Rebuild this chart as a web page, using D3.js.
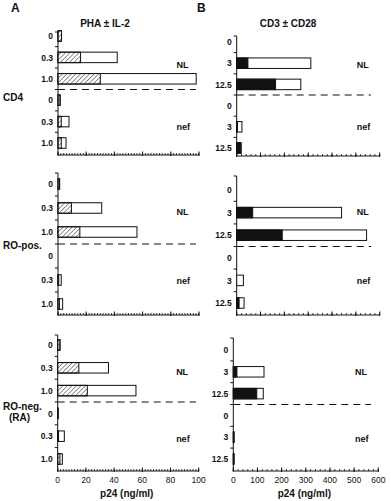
<!DOCTYPE html>
<html>
<head>
<meta charset="utf-8">
<script src="https://cdn.jsdelivr.net/npm/d3@7"></script>
<style>
  body { margin: 0; background: #fff; }
  text { font-family: "Liberation Sans", Arial, sans-serif; font-weight: bold; fill: #111; }
</style>
</head>
<body>
<svg id="chart" width="391" height="501"></svg>
<script>
// data
var groups = ["NL", "nef"];
var catsA = ["0", "0.3", "1.0"];
var catsB = ["0", "3", "12.5"];
var rowNames = [["CD4"], ["RO-pos."], ["RO-neg.", "(RA)"]];
var titleA = "PHA \u00b1 IL-2";
var titleB = "CD3 \u00b1 CD28";
var xTitle = "p24 (ng/ml)";
var ticksA = [0, 20, 40, 60, 80, 100];
var ticksB = [0, 100, 200, 300, 400, 500, 600];

// p24, NL 0/0.3/1.0 then nef 0/0.3/1.0, one row per cell population
var phaAlone = [[2.5, 16, 30, 1.5, 2.3, 2.3],
                [1, 9.5, 15.5, 0, 0.5, 1],
                [1.6, 15, 21, 0.3, 0.6, 1.6]];
var phaIl2 = [[2.5, 42, 98, 1.5, 7.8, 5.7],
              [1.2, 31, 56, 0, 2.3, 3.3],
              [1.6, 36, 55.5, 0.3, 4.7, 3.3]];
// NL 0/3/12.5 then nef 0/3/12.5
var cd3Alone = [[0, 47, 163, 0, 3, 17],
                [0, 67, 191, 0, 0, 10],
                [0, 15, 97, 0, 3, 3]];
var cd3Cd28 = [[0, 311, 269, 0, 22, 19],
               [0, 440, 545, 0, 28, 31],
               [0, 127, 124, 0, 3, 3]];

// where each sub-panel sits on the page
var layout = [
  { label: 97, groupY: [66, 128],
    A: { x0: 58, w: 141, top: 32, c0: 36, c5: 143, bottom: 155 },
    B: { x0: 236.7, w: 143, top: 36, c0: 42, c5: 148, bottom: 156 } },
  { label: 245, groupY: [213, 282],
    A: { x0: 58, w: 141, top: 173, c0: 184, c5: 304, bottom: 315 },
    B: { x0: 236.7, w: 143, top: 176, c0: 190, c5: 303, bottom: 315 } },
  { label: 406, groupY: [373, 440],
    A: { x0: 57.7, w: 141, top: 335, c0: 345, c5: 459, bottom: 471 },
    B: { x0: 233.3, w: 145, top: 338, c0: 350, c5: 459, bottom: 471 } }
];

var svg = d3.select("#chart");

var defs = svg.append("defs");
defs.append("pattern")
    .attr("id", "hatch")
    .attr("patternUnits", "userSpaceOnUse")
    .attr("width", 3.2)
    .attr("height", 3.2)
    .attr("patternTransform", "rotate(45)")
  .append("line")
    .attr("x1", 0).attr("y1", 0)
    .attr("x2", 0).attr("y2", 3.2)
    .attr("stroke", "#111")
    .attr("stroke-width", 0.9);

svg.append("text").attr("x", 11).attr("y", 12).style("font-size", "12px").text("A");
svg.append("text").attr("x", 197).attr("y", 12).style("font-size", "12px").text("B");
svg.append("text").attr("x", 105).attr("y", 27).attr("text-anchor", "middle")
   .style("font-size", "10px").text(titleA);
svg.append("text").attr("x", 288).attr("y", 27).attr("text-anchor", "middle")
   .style("font-size", "10px").text(titleB);

function drawPanel(L, groupY, cats, max, ticks, minorStep, inner, total, innerFill, showLabels, dashEnd) {
  var keys = [];
  groups.forEach(function (g) { cats.forEach(function (c) { keys.push(g + "|" + c); }); });

  var x = d3.scaleLinear().domain([0, max]).range([L.x0, L.x0 + L.w]);
  var y = d3.scalePoint().domain(keys).range([L.c0, L.c5]);
  var step = y.step();
  var barH = 10.5;

  var g = svg.append("g");

  // y axis with category labels
  var yAxis = d3.axisLeft(y).tickSize(0).tickPadding(5)
      .tickFormat(function (k) { return k.split("|")[1]; });
  var ya = g.append("g").attr("transform", "translate(" + L.x0 + ",0)").call(yAxis);
  ya.select(".domain").remove();
  ya.selectAll("text").style("font-size", "8.5px").style("font-family", null);
  g.append("line").attr("x1", L.x0).attr("x2", L.x0).attr("y1", L.top).attr("y2", L.bottom)
    .attr("stroke", "#111").attr("stroke-width", 1);
  var bounds = [L.top];
  for (var i = 0; i < keys.length - 1; i++) bounds.push(L.c0 + step * (i + 0.5));
  g.selectAll(".ytick").data(bounds).enter().append("line")
    .attr("x1", L.x0 - 3).attr("x2", L.x0)
    .attr("y1", function (d) { return d; }).attr("y2", function (d) { return d; })
    .attr("stroke", "#111").attr("stroke-width", 1);

  // x axis, ticks pointing up
  g.append("line").attr("x1", L.x0).attr("x2", L.x0 + L.w).attr("y1", L.bottom).attr("y2", L.bottom)
    .attr("stroke", "#111").attr("stroke-width", 1);
  var minor = d3.range(0, max + minorStep / 2, minorStep);
  g.selectAll(".xminor").data(minor).enter().append("line")
    .attr("x1", function (d) { return x(d); }).attr("x2", function (d) { return x(d); })
    .attr("y1", L.bottom).attr("y2", L.bottom - 2)
    .attr("stroke", "#111").attr("stroke-width", 0.8);
  g.selectAll(".xmajor").data(ticks).enter().append("line")
    .attr("x1", function (d) { return x(d); }).attr("x2", function (d) { return x(d); })
    .attr("y1", L.bottom + 1).attr("y2", L.bottom - 3.5)
    .attr("stroke", "#111").attr("stroke-width", 1);
  if (showLabels) {
    g.selectAll(".xlab").data(ticks).enter().append("text")
      .attr("x", function (d) { return x(d); }).attr("y", L.bottom + 12)
      .attr("text-anchor", "middle").style("font-size", "8.5px")
      .style("font-weight", "normal")
      .text(function (d) { return d; });
    svg.append("text").attr("x", L.x0 + L.w * 0.49).attr("y", L.bottom + 26)
      .attr("text-anchor", "middle").style("font-size", "10px").text(xTitle);
  }

  // dashed divider between NL and nef
  var dy = L.c0 + step * 2.5;
  g.append("line").attr("x1", L.x0).attr("x2", dashEnd).attr("y1", dy).attr("y2", dy)
    .attr("stroke", "#111").attr("stroke-width", 1).attr("stroke-dasharray", "7,5");

  // group labels
  groups.forEach(function (gr, gi) {
    g.append("text").attr("x", L.x0 + L.w * 0.84).attr("y", groupY[gi])
      .attr("dominant-baseline", "middle").style("font-size", "9px").text(gr);
  });

  // bars: whole bar open, first stimulus part filled
  var rows = keys.map(function (k, i) { return { k: k, inner: inner[i], total: total[i] }; })
    .filter(function (d) { return d.total > 0; });
  g.selectAll(".bar").data(rows).enter().append("rect")
    .attr("x", x(0)).attr("y", function (d) { return y(d.k) - barH / 2; })
    .attr("width", function (d) { return x(d.total) - x(0); }).attr("height", barH)
    .attr("fill", "#fff").attr("stroke", "#111").attr("stroke-width", 1);
  g.selectAll(".inner").data(rows.filter(function (d) { return d.inner > 0; })).enter().append("rect")
    .attr("x", x(0)).attr("y", function (d) { return y(d.k) - barH / 2; })
    .attr("width", function (d) { return x(d.inner) - x(0); }).attr("height", barH)
    .attr("fill", innerFill).attr("stroke", "#111").attr("stroke-width", 1);
}

layout.forEach(function (L, r) {
  var t = svg.append("text").attr("x", 3).attr("y", L.label).style("font-size", "10px");
  rowNames[r].forEach(function (s, i) {
    t.append("tspan").attr("x", i === 0 ? 3 : 9).attr("dy", i === 0 ? "0.35em" : "1.15em").text(s);
  });
  drawPanel(L.A, L.groupY, catsA, 100, ticksA, 2, phaAlone[r], phaIl2[r], "url(#hatch)", r === 2, 196);
  drawPanel(L.B, L.groupY, catsB, 600, ticksB, 20, cd3Alone[r], cd3Cd28[r], "#111", r === 2, 371);
});
</script>
</body>
</html>
